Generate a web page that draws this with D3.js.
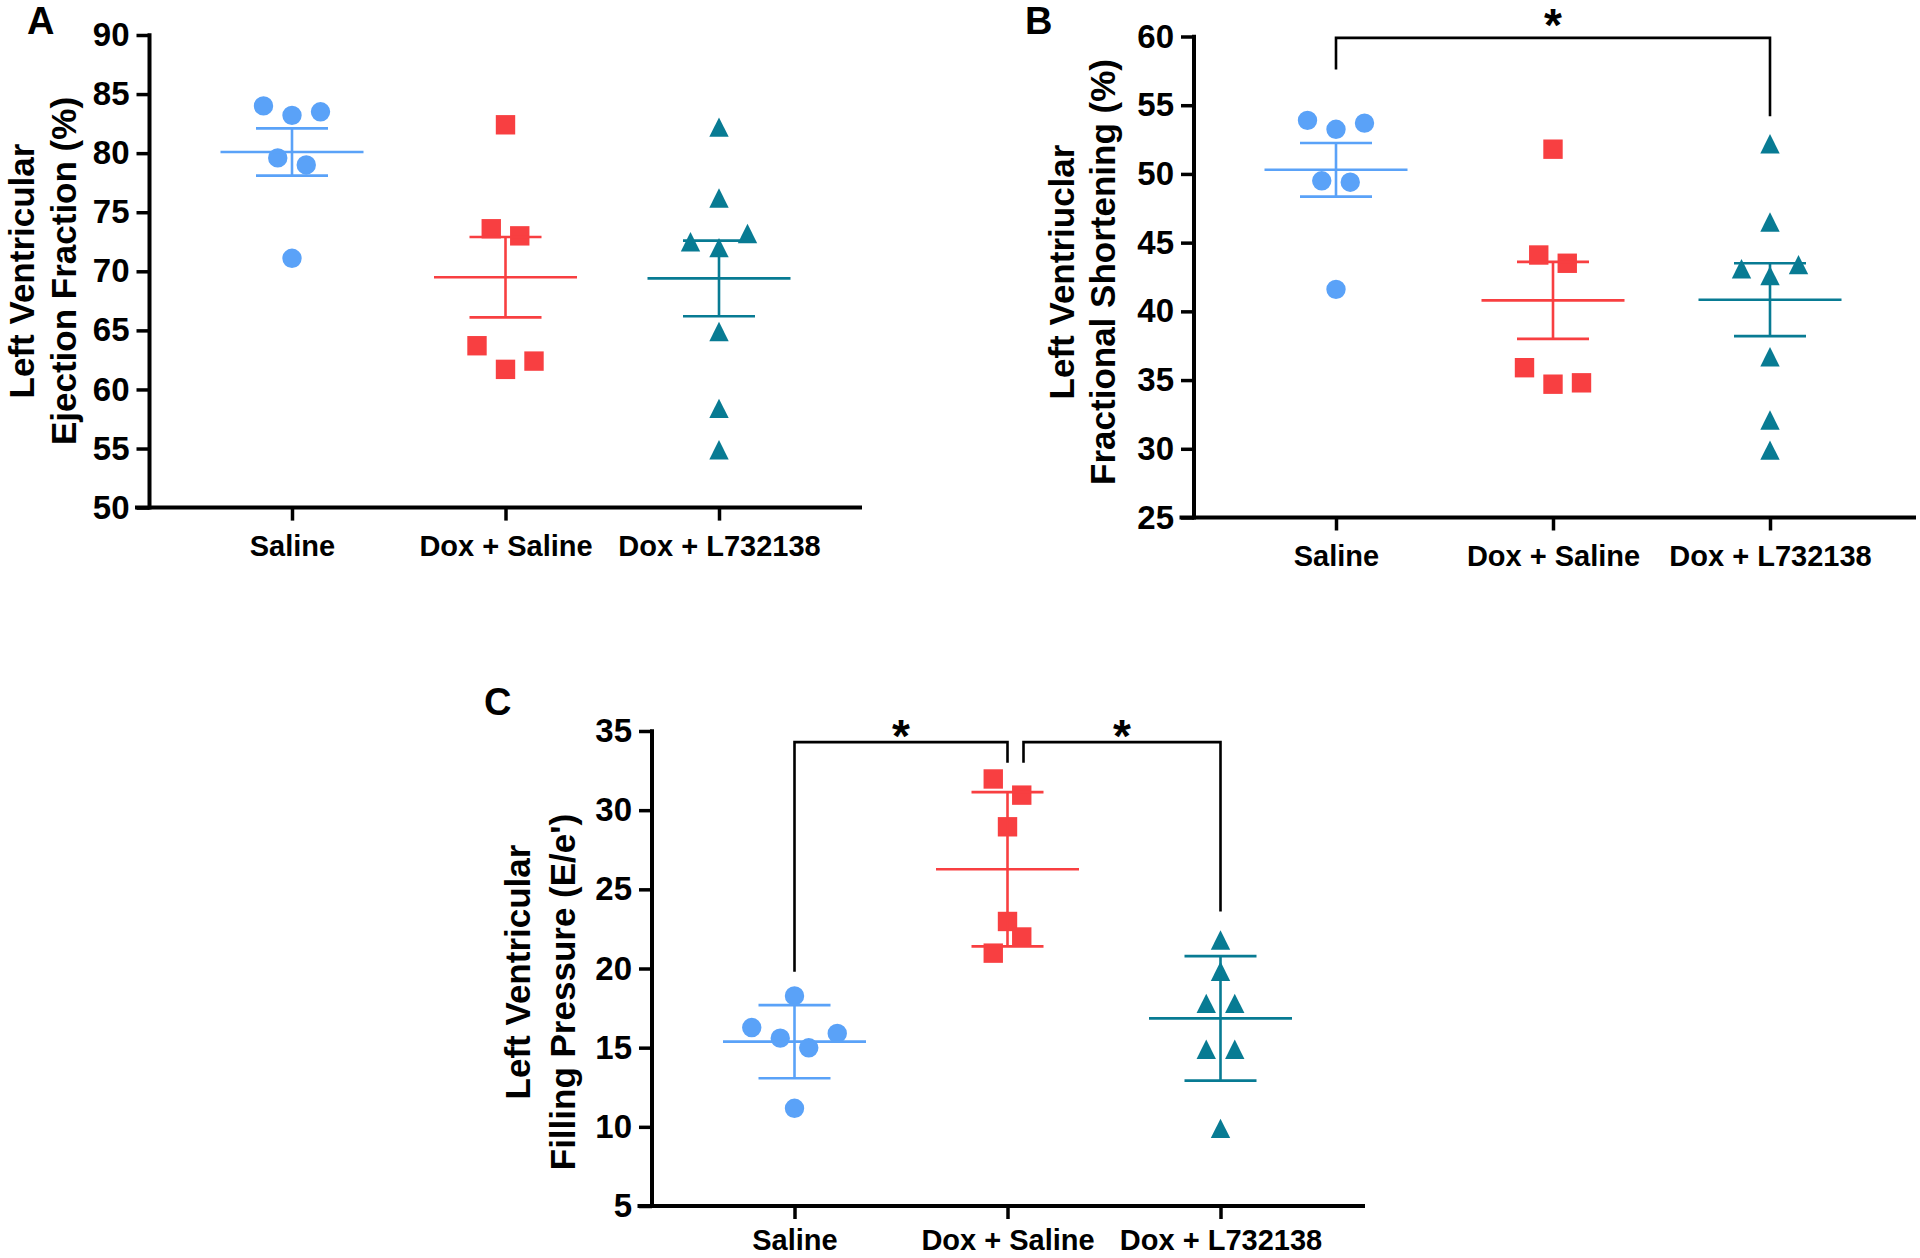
<!DOCTYPE html>
<html><head><meta charset="utf-8">
<script src="https://cdn.jsdelivr.net/npm/d3@7"></script>
<style>
html,body{margin:0;padding:0;background:#fff;}
svg{display:block;}
text{font-family:"Liberation Sans",Arial,Helvetica,sans-serif;font-weight:bold;fill:#000;}
</style></head><body>
<svg id="chart" width="1920" height="1258"></svg>
<script>
// ---------------- DATA ----------------
const categories = ["Saline", "Dox + Saline", "Dox + L732138"];

// Panel A: Left Ventricular Ejection Fraction (%)
const efSaline    = [84.0, 83.2, 83.5, 79.6, 79.0, 71.1];
const efDoxSaline = [82.4, 73.6, 73.0, 63.7, 61.7, 62.4];
const efDoxL      = [82.2, 76.2, 72.5, 72.0, 73.2, 64.9, 58.4, 54.9];
const efMean = [80.1, 69.5, 69.4];
const efSem  = [2.0, 3.4, 3.2];
const efTicks = [50, 55, 60, 65, 70, 75, 80, 85, 90];

// Panel B: Left Ventricular Fractional Shortening (%)
const fsSaline    = [53.9, 53.25, 53.7, 49.5, 49.4, 41.6];
const fsDoxSaline = [51.8, 44.1, 43.5, 35.9, 34.7, 34.8];
const fsDoxL      = [52.2, 46.5, 43.1, 42.6, 43.4, 36.7, 32.1, 29.9];
const fsMean = [50.3, 40.8, 40.85];
const fsSem  = [1.95, 2.8, 2.65];
const fsTicks = [25, 30, 35, 40, 45, 50, 55, 60];
const fsBrackets = [{from: 0, to: 2, level: 59.9, leftEnd: 57.6, rightEnd: 54.2, label: "*", labelAt: 61.55}];

// Panel C: Left Ventricular Filling Pressure (E/e')
const fpSaline    = [18.27, 16.27, 15.6, 14.99, 15.9, 11.17];
const fpDoxSaline = [31.97, 30.95, 28.95, 22.97, 20.97, 21.99];
const fpDoxL      = [21.8, 19.83, 17.8, 17.8, 14.9, 14.9, 9.9];
const fpMean = [15.38, 26.27, 16.85];
const fpSem  = [2.31, 4.87, 3.93];
const fpTicks = [5, 10, 15, 20, 25, 30, 35];
const fpBrackets = [
  {from: 0, to: 1, level: 34.3, leftEnd: 19.8, rightEnd: 33.0, label: "*", labelAt: 35.3, shiftFrom: false},
  {from: 1, to: 2, level: 34.3, leftEnd: 33.0, rightEnd: 23.6, label: "*", labelAt: 35.3, shiftFrom: true}
];

// ---------------- STYLE / LAYOUT ----------------
const colors = ["#5aa2f8", "#f83f41", "#087b93"];
const shapes = ["circle", "square", "triangle"];
const markerSize = 19.4;
const rowHeight = 26;      // px: values closer than this share a row
const rowSpacing = 28.5;   // px between neighbours in a row
const meanHalf = 71.5, capHalf = 36;

const panels = [
  {letter: "A", letterX: 27, letterY: 34, axisX: 149.5, top: 35, bottom: 507.6, xEnd: 862,
   catRange: [292, 719], domain: [50, 90], ticks: efTicks, xPad: 15,
   groups: [efSaline, efDoxSaline, efDoxL], mean: efMean, sem: efSem, brackets: [],
   title: ["Left Ventricular", "Ejection Fraction (%)"], titleX: [34, 76], titleY: [271, 271]},
  {letter: "B", letterX: 1025, letterY: 34, axisX: 1194, top: 36.5, bottom: 517.5, xEnd: 1916,
   catRange: [1336, 1770], domain: [25, 60], ticks: fsTicks, xPad: 15,
   groups: [fsSaline, fsDoxSaline, fsDoxL], mean: fsMean, sem: fsSem, brackets: fsBrackets,
   title: ["Left Ventriuclar", "Fractional Shortening (%)"], titleX: [1074, 1115], titleY: [272, 272]},
  {letter: "C", letterX: 484, letterY: 715, axisX: 652, top: 731, bottom: 1206, xEnd: 1365,
   catRange: [794.5, 1220.5], domain: [5, 35], ticks: fpTicks, xPad: 10,
   groups: [fpSaline, fpDoxSaline, fpDoxL], mean: fpMean, sem: fpSem, brackets: fpBrackets,
   title: ["Left Ventricular", "Filling Pressure (E/e')"], titleX: [530, 575], titleY: [972, 992]}
];

const svg = d3.select("#chart");

function rowLayout(values, y) {
  // group values into horizontal rows (Prism-like scatter dot layout)
  const idx = values.map((v, i) => i).sort((a, b) => values[a] - values[b]);
  const offsets = new Array(values.length).fill(0);
  let i = 0;
  while (i < idx.length) {
    const start = y(values[idx[i]]);
    const row = [idx[i]];
    let j = i + 1;
    while (j < idx.length && Math.abs(start - y(values[idx[j]])) < rowHeight) { row.push(idx[j]); j++; }
    row.sort((a, b) => a - b);
    row.forEach((k, n) => { offsets[k] = (n - (row.length - 1) / 2) * rowSpacing; });
    i = j;
  }
  return offsets;
}

function markerPath(shape) {
  const s = markerSize, h = s / 2;
  if (shape === "square") return `M${-h},${-h}H${h}V${h}H${-h}Z`;
  if (shape === "triangle") return `M0,${-h}L${h},${h}L${-h},${h}Z`;
  return d3.symbol(d3.symbolCircle, Math.PI * h * h)();
}

panels.forEach(p => {
  const g = svg.append("g");
  const x = d3.scalePoint().domain(categories).range(p.catRange);
  const y = d3.scaleLinear().domain(p.domain).range([p.bottom, p.top]);

  // y axis
  const ya = g.append("g").attr("transform", `translate(${p.axisX},0)`)
    .call(d3.axisLeft(y).tickValues(p.ticks).tickSize(13).tickSizeOuter(0).tickPadding(7));
  ya.select(".domain").remove();
  ya.selectAll(".tick line").attr("stroke", "#000").attr("stroke-width", 3.5);
  ya.selectAll(".tick text").attr("font-size", 33).attr("font-family", null).attr("fill", "#000");
  g.append("line").attr("x1", p.axisX).attr("x2", p.axisX).attr("y1", p.top - 1.75).attr("y2", p.bottom + 2)
    .attr("stroke", "#000").attr("stroke-width", 4);

  // x axis
  const xa = g.append("g").attr("transform", `translate(0,${p.bottom})`)
    .call(d3.axisBottom(x).tickSize(13).tickSizeOuter(0).tickPadding(p.xPad));
  xa.select(".domain").remove();
  xa.selectAll(".tick line").attr("stroke", "#000").attr("stroke-width", 3.5);
  xa.selectAll(".tick text").attr("font-size", 29).attr("font-family", null).attr("fill", "#000");
  g.append("line").attr("x1", p.axisX - 14.5).attr("x2", p.xEnd).attr("y1", p.bottom).attr("y2", p.bottom)
    .attr("stroke", "#000").attr("stroke-width", 4);

  // panel letter
  g.append("text").attr("x", p.letterX).attr("y", p.letterY).attr("font-size", 38).text(p.letter);

  // axis title
  p.title.forEach((t, i) => {
    g.append("text").attr("transform", `translate(${p.titleX[i]},${p.titleY[i]}) rotate(-90)`)
      .attr("text-anchor", "middle").attr("font-size", 35).text(t);
  });

  // points
  p.groups.forEach((vals, gi) => {
    const cx = x(categories[gi]);
    const offs = rowLayout(vals, y);
    g.append("g").selectAll("path").data(vals).join("path")
      .attr("d", markerPath(shapes[gi]))
      .attr("transform", (v, i) => `translate(${cx + offs[i]},${y(v)})`)
      .attr("fill", colors[gi]);
  });

  // mean and error bars
  p.mean.forEach((m, gi) => {
    const cx = x(categories[gi]);
    const eg = g.append("g").attr("stroke", colors[gi]).attr("stroke-width", 2.6).attr("fill", "none");
    eg.append("line").attr("x1", cx - meanHalf).attr("x2", cx + meanHalf).attr("y1", y(m)).attr("y2", y(m));
    eg.append("line").attr("x1", cx).attr("x2", cx).attr("y1", y(m + p.sem[gi])).attr("y2", y(m - p.sem[gi]));
    [m + p.sem[gi], m - p.sem[gi]].forEach(v => {
      eg.append("line").attr("x1", cx - capHalf).attr("x2", cx + capHalf).attr("y1", y(v)).attr("y2", y(v));
    });
  });

  // significance brackets
  p.brackets.forEach(b => {
    const x1 = x(categories[b.from]) + (b.shiftFrom ? 16 : 0);
    const x2 = x(categories[b.to]);
    g.append("path")
      .attr("d", `M${x1},${y(b.leftEnd)}V${y(b.level)}H${x2}V${y(b.rightEnd)}`)
      .attr("fill", "none").attr("stroke", "#000").attr("stroke-width", 2.6);
    g.append("text").attr("x", (x1 + x2) / 2).attr("y", y(b.labelAt) + 26)
      .attr("text-anchor", "middle").attr("font-size", 46).text(b.label);
  });
});
</script>
</body></html>
